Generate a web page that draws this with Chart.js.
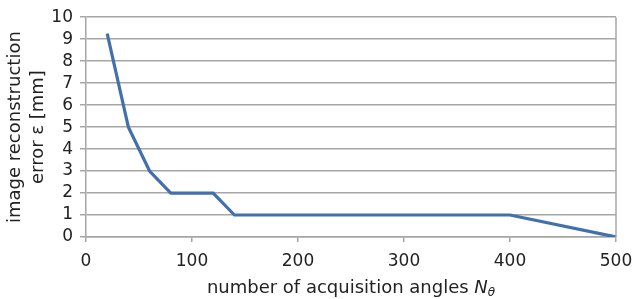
<!DOCTYPE html>
<html>
<head>
<meta charset="utf-8">
<script src="https://cdn.jsdelivr.net/npm/chart.js@4/dist/chart.umd.min.js"></script>
<style>
  html, body { margin: 0; padding: 0; background: #fff; }
  #wrap { width: 637px; height: 299px; position: relative; }
</style>
</head>
<body>
<div id="wrap"><canvas id="c"></canvas></div>
<script>
// ---- data ----
const angleCounts = [20, 40, 60, 80, 120, 140, 400, 500];
const errorValues = [9.25, 5, 3, 2, 2, 1, 1, 0];
const xTickValues = [0, 100, 200, 300, 400, 500];
const yTickValues = [0, 1, 2, 3, 4, 5, 6, 7, 8, 9, 10];
const yTitleLines = ['image reconstruction', 'error ε [mm]'];
const xTitleText = 'number of acquisition angles ';
const xTitleVar = 'N';
const xTitleSub = 'θ';

const FONT = "'DejaVu Sans', sans-serif";
const GRID = '#a6a6a6';
const TEXT = '#222';

const points = angleCounts.map((x, i) => ({ x: x, y: errorValues[i] }));

const frame = {
  id: 'frame',
  afterDraw(chart) {
    const { ctx, chartArea: a } = chart;
    ctx.save();
    ctx.strokeStyle = GRID;
    ctx.lineWidth = 1.5;
    ctx.beginPath();
    ctx.moveTo(a.right, a.top);
    ctx.lineTo(a.right, a.bottom);
    ctx.stroke();
    // x-axis title with italic variable and subscript
    ctx.fillStyle = TEXT;
    ctx.textBaseline = 'alphabetic';
    const f1 = '18px ' + FONT, f2 = 'italic 18px ' + FONT, f3 = 'italic 12px ' + FONT;
    ctx.font = f1; const w1 = ctx.measureText(xTitleText).width;
    ctx.font = f2; const w2 = ctx.measureText(xTitleVar).width;
    ctx.font = f3; const w3 = ctx.measureText(xTitleSub).width;
    const total = w1 + w2 + w3;
    const cx = (a.left + a.right) / 2;
    let x = cx - total / 2;
    const y = a.bottom + 56;
    ctx.textAlign = 'left';
    ctx.font = f1; ctx.fillText(xTitleText, x, y); x += w1;
    ctx.font = f2; ctx.fillText(xTitleVar, x, y); x += w2;
    ctx.font = f3; ctx.fillText(xTitleSub, x, y + 3);
    ctx.restore();
  }
};

new Chart(document.getElementById('c'), {
  type: 'scatter',
  data: {
    datasets: [{
      data: points,
      showLine: true,
      borderColor: '#4270ad',
      borderWidth: 3.2,
      pointRadius: 0,
      pointHoverRadius: 0,
      tension: 0,
      fill: false
    }]
  },
  options: {
    responsive: true,
    maintainAspectRatio: false,
    animation: false,
    layout: { padding: { left: 0, right: 21, top: 14, bottom: 0 } },
    plugins: { legend: { display: false }, tooltip: { enabled: false } },
    scales: {
      x: {
        type: 'linear',
        min: 0, max: 500,
        afterBuildTicks(s) { s.ticks = xTickValues.map(v => ({ value: v })); },
        afterFit(s) { s.height = 62; s.paddingRight = 0; s.paddingLeft = 0; },
        grid: { drawOnChartArea: false, drawTicks: true, tickLength: 5, color: GRID, lineWidth: 1.5 },
        border: { display: true, color: GRID, width: 1.5 },
        ticks: { font: { family: FONT, size: 17 }, color: TEXT, padding: 9, maxRotation: 0, autoSkip: false }
      },
      y: {
        type: 'linear',
        min: 0, max: 10,
        afterBuildTicks(s) { s.ticks = yTickValues.map(v => ({ value: v })); },
        afterFit(s) { s.width = 86; },
        grid: { drawOnChartArea: true, drawTicks: true, tickLength: 6, color: GRID, lineWidth: 1.5 },
        border: { display: true, color: GRID, width: 1.5 },
        ticks: { font: { family: FONT, size: 17 }, color: TEXT, padding: 7, autoSkip: false },
        title: {
          display: true,
          text: yTitleLines,
          font: { family: FONT, size: 18, lineHeight: 1.28 },
          color: TEXT,
          padding: { top: 4, bottom: 0 }
        }
      }
    }
  },
  plugins: [frame]
});
</script>
</body>
</html>
